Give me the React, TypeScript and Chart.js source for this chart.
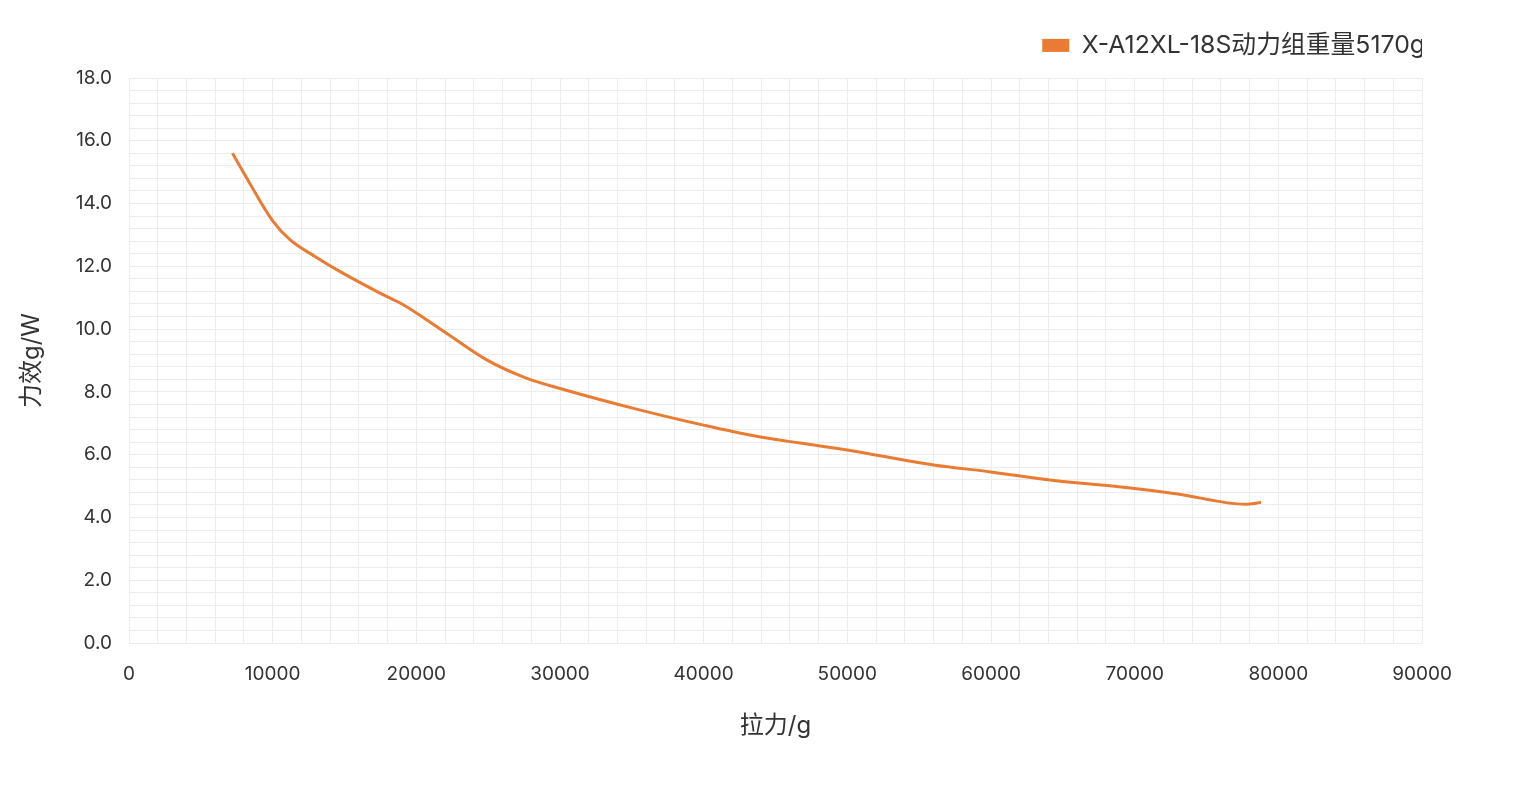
import React, { useEffect, useRef } from 'react';
import { Chart, registerables } from 'chart.js';

Chart.register(...registerables);

const seriesName = 'X-A12XL-18S动力组重量5170g';
const xTitle = '拉力/g';
const yTitle = '力效g/W';
const thrust = [7200, 8400, 10000, 11200, 13000, 14700, 17500, 19000, 22100, 24900, 27700, 30000, 35600, 40000, 43500, 46700, 50000, 56000, 60000, 64100, 69700, 73000, 77700, 78800];
const efficiency = [15.6, 14.65, 13.45, 12.85, 12.3, 11.83, 11.14, 10.8, 9.87, 9.02, 8.43, 8.11, 7.42, 6.94, 6.6, 6.37, 6.15, 5.67, 5.45, 5.19, 4.94, 4.75, 4.42, 4.48];
const xRange = [0, 90000];
const yRange = [0, 18];
const xMinorStep = 2000;
const xLabelStep = 10000;
const yMinorStep = 0.4;
const yLabelStep = 2;

const FONT = "Inter, 'Noto Sans CJK SC', sans-serif";
const TEXT = '#333333';
const GRID = '#ececec';
const LINE = '#E97B33';

const legendFitPlugin = {
  id: 'legendFit',
  beforeLayout(chart: any) {
    const lg = chart.legend;
    if (lg && !lg._patched) {
      const origFit = lg.fit;
      lg.fit = function () {
        origFit.call(this);
        this.height = 54;
        this.lineWidths = this.lineWidths.map((w: number) => w - 12);
      };
      lg._patched = true;
    }
  },
};

export default function App() {
  const ref = useRef<HTMLCanvasElement>(null);
  useEffect(() => {
    document.body.style.margin = '0';
    const data = thrust.map((x, i) => ({ x, y: efficiency[i] }));
    const chart = new Chart(ref.current as HTMLCanvasElement, {
      type: 'line',
      data: {
        datasets: [
          {
            label: seriesName,
            data,
            borderColor: LINE,
            backgroundColor: LINE,
            borderWidth: 3,
            pointRadius: 0,
            pointHoverRadius: 0,
            fill: false,
            cubicInterpolationMode: 'monotone',
          },
        ],
      },
      options: {
        animation: false,
        responsive: true,
        maintainAspectRatio: false,
        layout: { padding: { top: 24, right: 104, bottom: 0, left: 0 } },
        plugins: {
          legend: {
            position: 'top',
            align: 'end',
            labels: {
              boxWidth: 27,
              boxHeight: 13,
              padding: 9,
              color: TEXT,
              font: { family: FONT, size: 24.8 },
              generateLabels: (c: any) =>
                Chart.defaults.plugins.legend.labels
                  .generateLabels(c)
                  .map((l: any) => ({ ...l, lineWidth: 0 })),
            },
          },
          tooltip: { enabled: false },
        },
        scales: {
          x: {
            type: 'linear',
            min: xRange[0],
            max: xRange[1],
            afterFit: (s: any) => {
              s.height = 160;
            },
            border: { display: false },
            grid: { color: GRID, drawTicks: false, lineWidth: 1 },
            ticks: {
              stepSize: xMinorStep,
              autoSkip: false,
              maxRotation: 0,
              padding: 20,
              color: TEXT,
              font: { family: FONT, size: 19 },
              callback: (v: any) => (Number(v) % xLabelStep === 0 ? String(v) : ''),
            },
            title: {
              display: true,
              text: xTitle,
              color: TEXT,
              font: { family: FONT, size: 24 },
              padding: { top: 0, bottom: 63 },
            },
          },
          y: {
            type: 'linear',
            min: yRange[0],
            max: yRange[1],
            afterFit: (s: any) => {
              s.width = 129;
            },
            border: { display: false },
            grid: { color: GRID, drawTicks: false, lineWidth: 1 },
            ticks: {
              stepSize: yMinorStep,
              autoSkip: false,
              padding: 17,
              color: TEXT,
              font: { family: FONT, size: 19 },
              callback: (v: any) => {
                const n = Number(v) / yLabelStep;
                return Math.abs(n - Math.round(n)) < 1e-6 ? Number(v).toFixed(1) : '';
              },
            },
            title: {
              display: true,
              text: yTitle,
              color: TEXT,
              font: { family: FONT, size: 24 },
              padding: { top: 17, bottom: 0 },
            },
          },
        },
      },
      plugins: [legendFitPlugin],
    } as any);
    return () => chart.destroy();
  }, []);
  return (
    <div style={{ position: 'absolute', left: 0, top: 0, width: 1526, height: 803 }}>
      <canvas ref={ref} />
    </div>
  );
}
